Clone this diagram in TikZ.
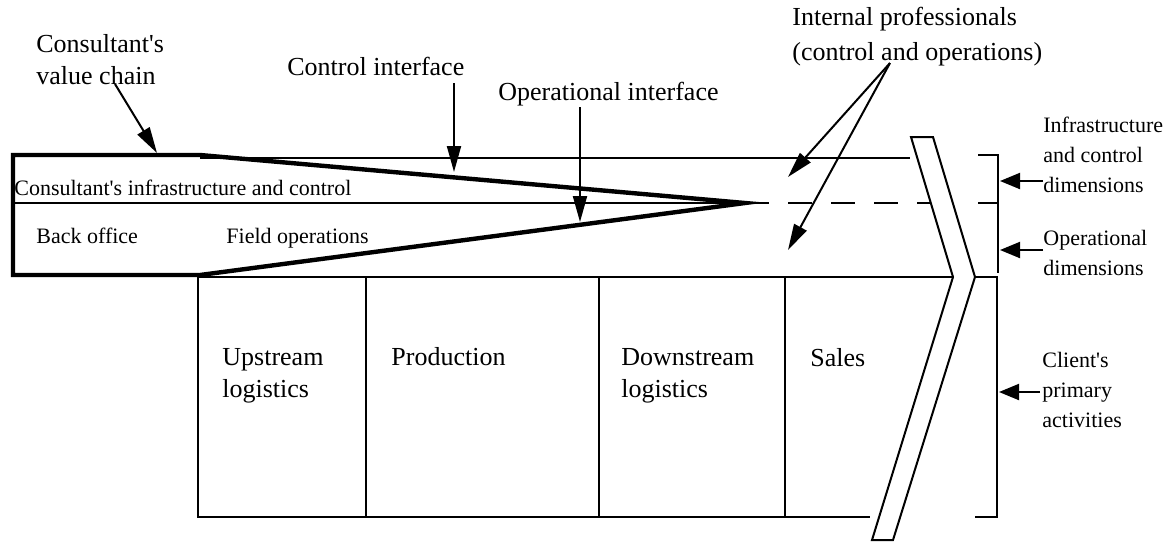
\documentclass[tikz,border=0pt]{standalone}
\usepackage{fontspec}
\setmainfont{Liberation Serif}
\usetikzlibrary{arrows.meta}

\tikzset{%
        biglabel/.style={
                font=\fontsize{13}{16}\selectfont,
                align=left,
                inner sep=0pt
            },
        smalllabel/.style={
                font=\fontsize{11}{15}\selectfont,
                align=left,
                inner sep=0pt
            },
        thinline/.style={line width=1pt},
        thickline/.style={line width=2.2pt},
        pointer/.style={
                line width=1pt,
                -{Triangle[length=13pt,width=7pt]}
            },
        sidepointer/.style={
                line width=1pt,
                -{Triangle[length=10pt,width=8pt]}
            }
    }

\begin{document}
\begin{tikzpicture}[x=0.5pt, y=-0.5pt]
    \useasboundingbox (0,0) rectangle (1173,543);

    % consultant's value chain:
        \draw[thinline] (13,203) -- (745,203);
        \draw[thinline] (200,158) -- (910,158);
        \draw[thinline, dash pattern=on 12pt off 9.5pt] (745,203) -- (933,203);
        \draw[thickline] (13,155) -- (200,155) -- (745,203) -- (200,275) -- (13,275) -- cycle;

    % client's primary activities:
        \draw[thinline] (198,277) -- (953,277);
        \draw[thinline] (198,277) -- (198,517) -- (870,517);
        \draw[thinline] (975,517) -- (997,517) -- (997,277) -- (975,277);
        \foreach \x in {366,599,785}
            \draw[thinline] (\x,277) -- (\x,517);

    % margin band and brackets:
        \draw[thinline, fill=white] (911,137) -- (933,137) -- (975,277) -- (893,540) -- (872,540) -- (953,277) -- cycle;
        \draw[thinline] (978,155) -- (998,155) -- (998,273);
        \draw[thinline] (978,203) -- (998,203);

    % labels:
        \node [biglabel, anchor=north west] (cvc) at (36,34) {Consultant\textquotesingle s\\value chain};
        \node [biglabel, anchor=base west]  (ctrl) at (287,75) {Control interface};
        \node [biglabel, anchor=base west]  (oper) at (498,100) {Operational interface};
        \node [biglabel, anchor=north west, font=\fontsize{13}{17.5}\selectfont] (intpro) at (792,7) {Internal professionals\\(control and operations)};
        \node [smalllabel, anchor=base west] (infra) at (14,195) {Consultant\textquotesingle s infrastructure and control};
        \node [smalllabel, anchor=base west] (back) at (36,243) {Back office};
        \node [smalllabel, anchor=base west] (field) at (226,243) {Field operations};
        \node [biglabel, anchor=north west] (up) at (222,348) {Upstream\\logistics};
        \node [biglabel, anchor=north west] (prod) at (391,347) {Production};
        \node [biglabel, anchor=north west] (down) at (621,348) {Downstream\\logistics};
        \node [biglabel, anchor=north west] (sales) at (810,348) {Sales};
        \node [smalllabel, anchor=north west] (infdim) at (1043,117) {Infrastructure\\and control\\dimensions};
        \node [smalllabel, anchor=north west] (opdim) at (1043,230) {Operational\\dimensions};
        \node [smalllabel, anchor=north west] (client) at (1042,352) {Client\textquotesingle s\\primary\\activities};

    % arrows:
        \coordinate (cvc-from) at (115,84);
        \coordinate (cvc-to) at (157,153);
        \coordinate (ctrl-from) at (454,83);
        \coordinate (ctrl-to) at (454,172);
        \coordinate (oper-from) at (580,107);
        \coordinate (oper-to) at (580,222);
        \coordinate (intpro-from) at (890,63);
        \coordinate (intpro-top) at (788,177);
        \coordinate (intpro-low) at (788,250);
        \coordinate (infdim-from) at (1043,181);
        \coordinate (infdim-to) at (1000,181);
        \coordinate (opdim-from) at (1043,250);
        \coordinate (opdim-to) at (1000,250);
        \coordinate (client-from) at (1040,392);
        \coordinate (client-to) at (999,392);

        \draw[pointer] (cvc-from) -- (cvc-to);
        \draw[pointer] (ctrl-from) -- (ctrl-to);
        \draw[pointer] (oper-from) -- (oper-to);
        \draw[pointer] (intpro-from) -- (intpro-top);
        \draw[pointer] (intpro-from) -- (intpro-low);
        \draw[sidepointer] (infdim-from) -- (infdim-to);
        \draw[sidepointer] (opdim-from) -- (opdim-to);
        \draw[sidepointer] (client-from) -- (client-to);
\end{tikzpicture}
\end{document}
